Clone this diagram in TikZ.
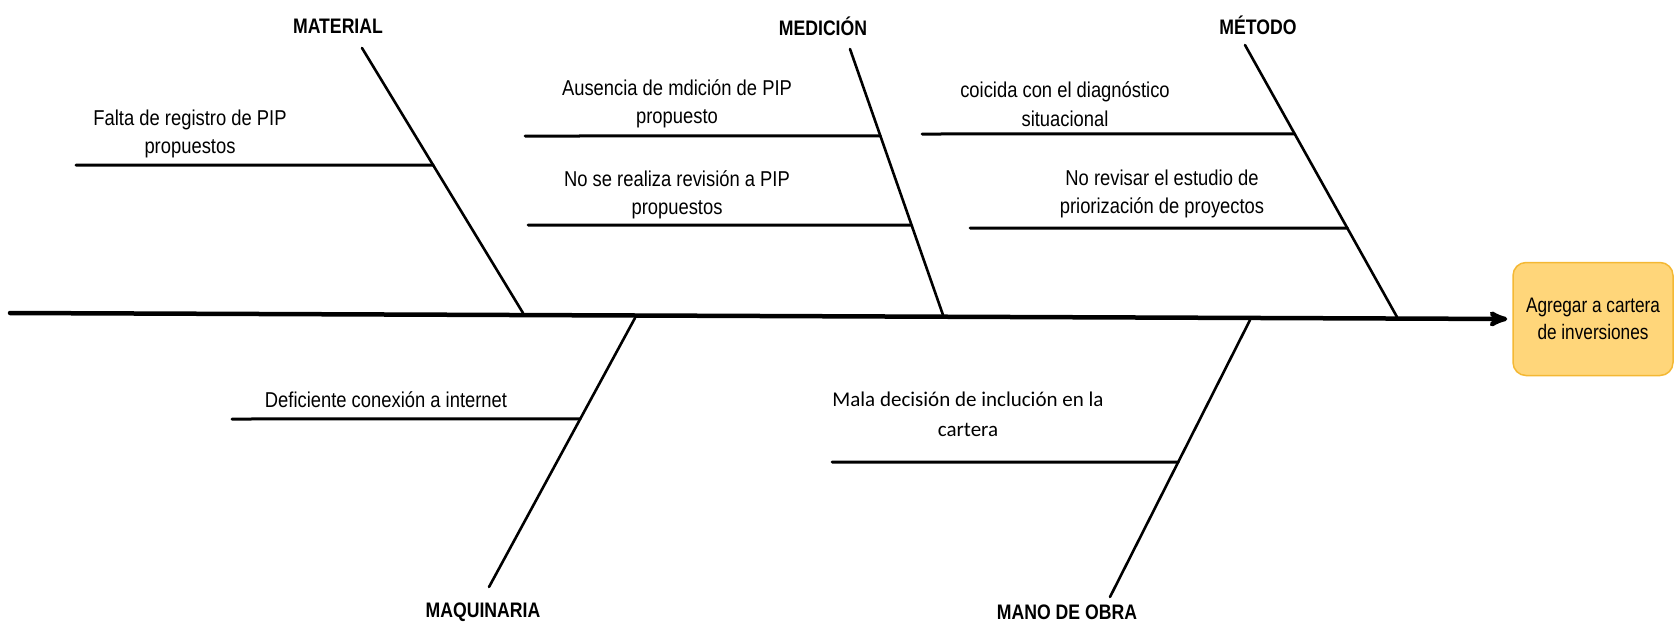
\documentclass[tikz,border=0pt]{standalone}
\usepackage{fontspec}
\usepackage{tikz}
\usetikzlibrary{arrows}
\newfontfamily\narrowfont[FakeStretch=0.855]{Liberation Sans}
\newfontfamily\labelfont[FakeStretch=0.84]{Liberation Sans}
\newfontfamily\boxfont[FakeStretch=0.82]{Liberation Sans}
\newfontfamily\calfont{Carlito}
\definecolor{boxfill}{RGB}{255,214,122}
\definecolor{boxline}{RGB}{244,184,52}

\begin{document}
\begin{tikzpicture}[x=1pt,y=-1pt,>=stealth',line cap=round]
  \tikzstyle{cause}=[inner sep=0pt,font=\labelfont\bfseries\fontsize{21}{25}\selectfont]
  \tikzstyle{item}=[inner sep=0pt,align=center,font=\narrowfont\fontsize{21.5}{28.5}\selectfont]
  \tikzstyle{bone}=[line width=2.6pt]
  \tikzstyle{twig}=[line width=3pt]
  \useasboundingbox (0,0) rectangle (1675,624);

  % effect and spine
  \node[item,font=\boxfont\fontsize{21}{27}\selectfont,rounded corners=13pt,fill=boxfill,
        draw=boxline,line width=1.5pt,minimum width=160pt,minimum height=113pt]
        (effect) at (1593,319) {Agregar a cartera\\de inversiones};
  \coordinate (tail) at (10,313);
  \draw[->,line width=4.5pt,shorten >=5pt] (tail) -- (effect.west);

  % upper bones
  \node[cause] (material) at (338,26) {MATERIAL};
  \coordinate (matT) at (362,48);
  \coordinate (matB) at (523,313);
  \draw[bone] (matT) -- (matB) coordinate[pos=0.4415] (mat1);

  \node[cause] (medicion) at (823,26) {MEDICIÓN};
  \coordinate (medT) at (850,49);
  \coordinate (medB) at (943,315);
  \draw[bone] (medT) -- (medB) coordinate[pos=0.327] (med1) coordinate[pos=0.662] (med2);

  \node[cause] (metodo) at (1258,25) {MÉTODO};
  \coordinate (metT) at (1245,45);
  \coordinate (metB) at (1397,317);
  \draw[bone] (metT) -- (metB) coordinate[pos=0.327] (met1) coordinate[pos=0.673] (met2);

  % lower bones
  \node[cause] (maquinaria) at (483,612) {MAQUINARIA};
  \coordinate (maqT) at (635,318);
  \coordinate (maqB) at (489,587);
  \draw[bone] (maqT) -- (maqB) coordinate[pos=0.375] (maq1);

  \node[cause] (manoobra) at (1067,612) {MANO DE OBRA};
  \coordinate (manT) at (1250,320);
  \coordinate (manB) at (1110,597);
  \draw[bone] (manT) -- (manB) coordinate[pos=0.513] (man1);

  % causes
  \node[item] (falta) at (190,134) {Falta de registro de PIP\\propuestos};
  \coordinate (falta0) at (76,165);
  \draw[twig] (falta0) -- (mat1);

  \node[item] (ausencia) at (677,104) {Ausencia de mdición de PIP\\propuesto};
  \coordinate (ausencia0) at (525,136);
  \draw[twig] (ausencia0) -- (med1);

  \node[item] (revision) at (677,195) {No se realiza revisión a PIP\\propuestos};
  \coordinate (revision0) at (528,225);
  \draw[twig] (revision0) -- (med2);

  \node[item] (coicida) at (1065,104) {coicida con el diagnóstico\\situacional};
  \coordinate (coicida0) at (922,134);
  \draw[twig] (coicida0) -- (met1);

  \node[item] (estudio) at (1162,194) {No revisar el estudio de\\priorización de proyectos};
  \coordinate (estudio0) at (970,228);
  \draw[twig] (estudio0) -- (met2);

  \node[item] (conexion) at (386,400) {Deficiente conexión a internet};
  \coordinate (conexion0) at (232,419);
  \draw[twig] (conexion0) -- (maq1);

  \node[item,font=\calfont\fontsize{21}{30}\selectfont] (decision) at (968,414) {Mala decisión de inclución en la\\cartera};
  \coordinate (decision0) at (832,462);
  \draw[twig] (decision0) -- (man1);
\end{tikzpicture}
\end{document}
